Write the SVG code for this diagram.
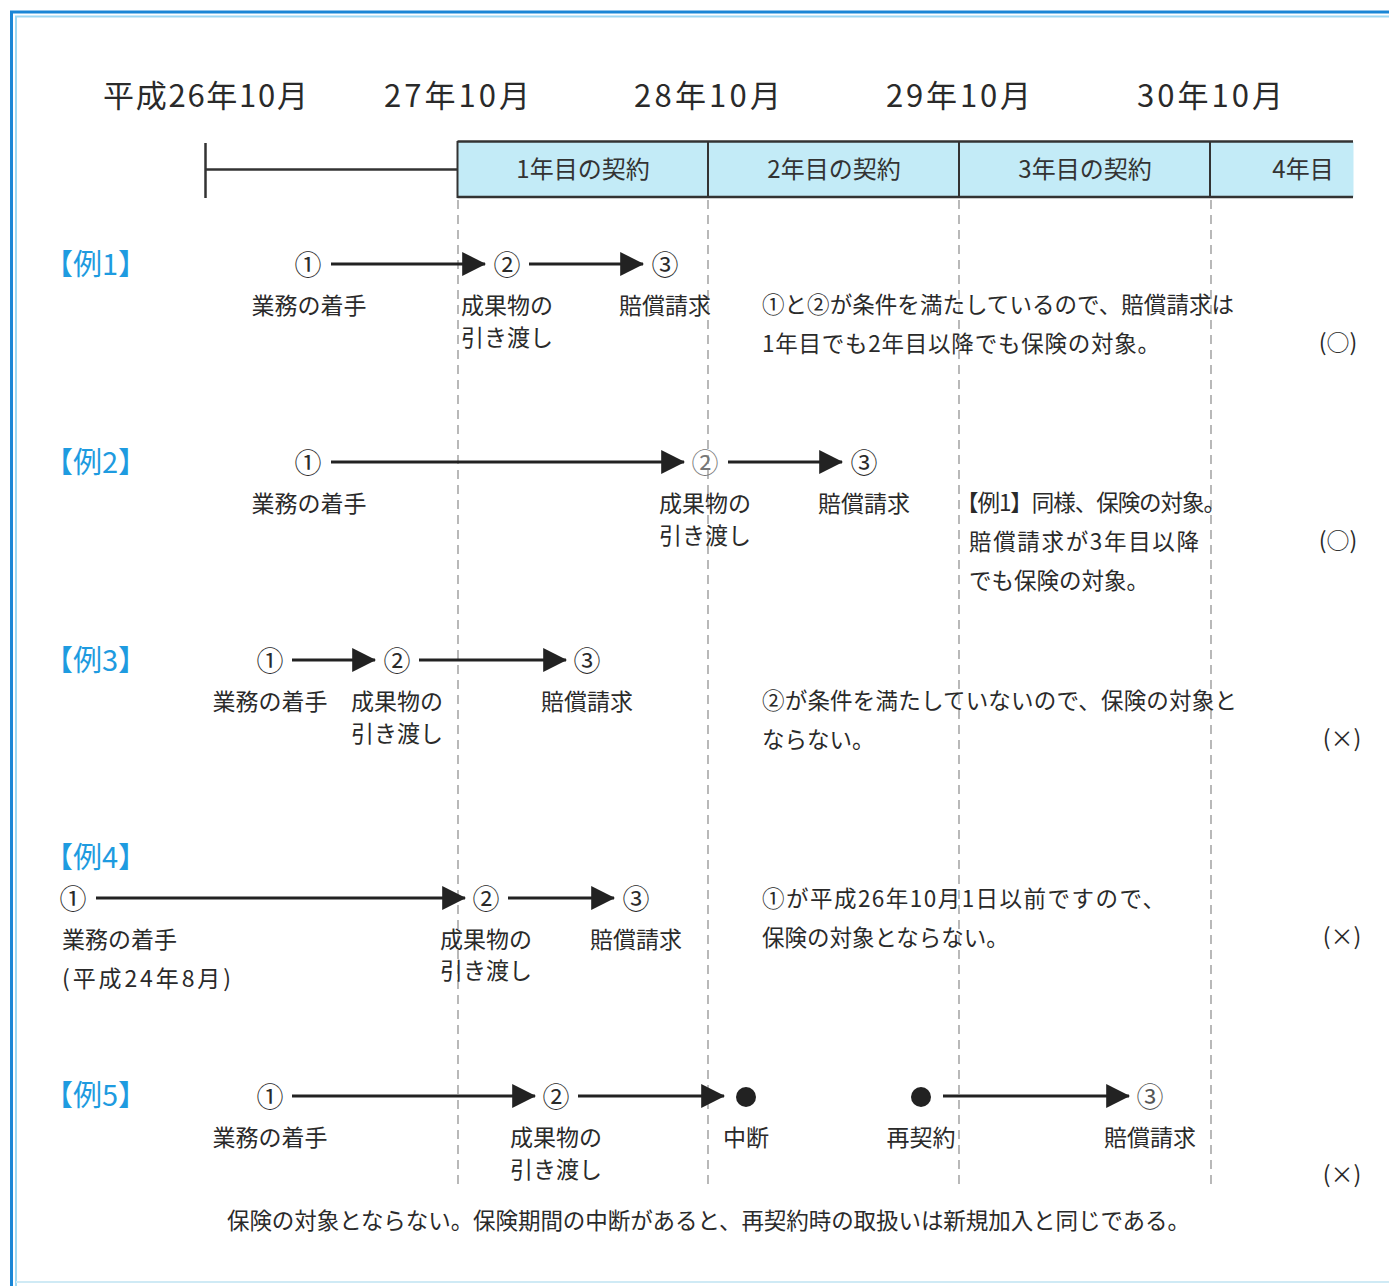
<svg xmlns="http://www.w3.org/2000/svg" width="1389" height="1286" viewBox="0 0 1389 1286">
<defs>
<style>
text{font-family:"Noto Sans CJK JP","Noto Sans",sans-serif;fill:#2a2a2a;}
.hd{font-size:31px;}
.lb{font-size:23px;text-anchor:middle;}
.tx{font-size:22.5px;}
.num{font-size:27px;text-anchor:middle;}
.ex{font-size:29px;fill:#1e9be0;}
.mk{font-size:23px;text-anchor:middle;}
.yr{font-size:24px;text-anchor:middle;fill:#333;}
.ar{stroke:#222;stroke-width:3;fill:none;}
.dash{stroke:#8a8a8a;stroke-width:1.2;stroke-dasharray:9 6;fill:none;}
</style>
<marker id="ah" markerWidth="8" markerHeight="8" refX="7.6" refY="4" orient="auto" markerUnits="strokeWidth">
<path d="M0,0 L8,4 L0,8 z" fill="#222"/>
</marker>
</defs>
<rect width="1389" height="1286" fill="#ffffff"/>
<g id="frame">
<path d="M1389,12 H11.5 V1286" fill="none" stroke="#1a86d6" stroke-width="3"/>
<path d="M1389,16.5 H16 V1286" fill="none" stroke="#9dd8f3" stroke-width="2"/>
<path d="M16,1282 H1389" fill="none" stroke="#cfeaf5" stroke-width="2"/>
</g>
<g id="header">
<text class="hd" x="103" y="107" textLength="205" lengthAdjust="spacing">平成26年10月</text>
<text class="hd" x="384" y="107" textLength="146" lengthAdjust="spacing">27年10月</text>
<text class="hd" x="634" y="107" textLength="147" lengthAdjust="spacing">28年10月</text>
<text class="hd" x="886" y="107" textLength="145" lengthAdjust="spacing">29年10月</text>
<text class="hd" x="1137" y="107" textLength="146" lengthAdjust="spacing">30年10月</text>
</g>
<g id="timeline">
<line x1="205.5" y1="143" x2="205.5" y2="198" stroke="#333" stroke-width="2.5"/>
<line x1="205" y1="169.5" x2="457" y2="169.5" stroke="#333" stroke-width="2.5"/>
<rect x="457.5" y="142" width="896" height="55" fill="#c3ebf7"/>
<line x1="457.5" y1="141.5" x2="1353" y2="141.5" stroke="#333" stroke-width="2.5"/>
<line x1="457.5" y1="197" x2="1353" y2="197" stroke="#333" stroke-width="2.5"/>
<line x1="457.5" y1="141" x2="457.5" y2="198" stroke="#333" stroke-width="2"/>
<line x1="708" y1="141" x2="708" y2="198" stroke="#333" stroke-width="2"/>
<line x1="959" y1="141" x2="959" y2="198" stroke="#333" stroke-width="2"/>
<line x1="1210" y1="141" x2="1210" y2="198" stroke="#333" stroke-width="2"/>
<text class="yr" x="583" y="178">1年目の契約</text>
<text class="yr" x="834" y="178">2年目の契約</text>
<text class="yr" x="1085" y="178">3年目の契約</text>
<text class="yr" x="1303" y="178">4年目</text>
</g>
<g id="gridlines">
<line class="dash" x1="458" y1="200" x2="458" y2="1185"/>
<line class="dash" x1="708" y1="200" x2="708" y2="1185"/>
<line class="dash" x1="959" y1="200" x2="959" y2="1185"/>
<line class="dash" x1="1211" y1="200" x2="1211" y2="1185"/>
</g>
<g id="connectors">
<line class="ar" x1="331" y1="264" x2="485" y2="264" marker-end="url(#ah)"/>
<line class="ar" x1="529" y1="264" x2="643" y2="264" marker-end="url(#ah)"/>
<line class="ar" x1="331" y1="462" x2="684" y2="462" marker-end="url(#ah)"/>
<line class="ar" x1="728" y1="462" x2="842" y2="462" marker-end="url(#ah)"/>
<line class="ar" x1="292" y1="660" x2="375" y2="660" marker-end="url(#ah)"/>
<line class="ar" x1="419" y1="660" x2="566" y2="660" marker-end="url(#ah)"/>
<line class="ar" x1="96" y1="898" x2="465" y2="898" marker-end="url(#ah)"/>
<line class="ar" x1="508" y1="898" x2="614" y2="898" marker-end="url(#ah)"/>
<line class="ar" x1="292" y1="1096" x2="535" y2="1096" marker-end="url(#ah)"/>
<line class="ar" x1="578" y1="1096" x2="724" y2="1096" marker-end="url(#ah)"/>
<line class="ar" x1="943" y1="1096" x2="1129" y2="1096" marker-end="url(#ah)"/>
</g>
<g id="ex1">
<text class="ex" x="44" y="275">【例1】</text>
<text class="num" x="308" y="275">①</text>
<text class="num" x="507" y="275">②</text>
<text class="num" x="665" y="275">③</text>
<text class="lb" x="309" y="314">業務の着手</text>
<text class="lb" x="507" y="314">成果物の</text>
<text class="lb" x="507" y="346">引き渡し</text>
<text class="lb" x="665" y="314">賠償請求</text>
<text class="tx" x="762" y="313" textLength="472" lengthAdjust="spacing">①と②が条件を満たしているので、賠償請求は</text>
<text class="tx" x="762" y="352" textLength="398" lengthAdjust="spacing">1年目でも2年目以降でも保険の対象。</text>
<text class="mk" x="1338" y="351">(○)</text>
</g>
<g id="ex2">
<text class="ex" x="44" y="473">【例2】</text>
<text class="num" x="308" y="473">①</text>
<text class="num" x="705" y="473" style="fill:#777">②</text>
<text class="num" x="864" y="473">③</text>
<text class="lb" x="309" y="512">業務の着手</text>
<text class="lb" x="705" y="512">成果物の</text>
<text class="lb" x="705" y="544">引き渡し</text>
<text class="lb" x="864" y="512">賠償請求</text>
<text class="tx" x="956" y="511" textLength="270" lengthAdjust="spacing">【例1】同様、保険の対象。</text>
<text class="tx" x="969" y="550" textLength="230" lengthAdjust="spacing">賠償請求が3年目以降</text>
<text class="tx" x="969" y="589">でも保険の対象。</text>
<text class="mk" x="1338" y="549">(○)</text>
</g>
<g id="ex3">
<text class="ex" x="44" y="671">【例3】</text>
<text class="num" x="270" y="671">①</text>
<text class="num" x="397" y="671">②</text>
<text class="num" x="587" y="671">③</text>
<text class="lb" x="270" y="710">業務の着手</text>
<text class="lb" x="397" y="710">成果物の</text>
<text class="lb" x="397" y="742">引き渡し</text>
<text class="lb" x="587" y="710">賠償請求</text>
<text class="tx" x="762" y="709" textLength="475" lengthAdjust="spacing">②が条件を満たしていないので、保険の対象と</text>
<text class="tx" x="762" y="748">ならない。</text>
<text class="mk" x="1342" y="747">(×)</text>
</g>
<g id="ex4">
<text class="ex" x="44" y="868">【例4】</text>
<text class="num" x="73" y="909">①</text>
<text class="num" x="486" y="909">②</text>
<text class="num" x="636" y="909">③</text>
<text class="tx" x="62" y="948" style="font-size:23px">業務の着手</text>
<text class="tx" x="62" y="987" style="font-size:23px" textLength="169" lengthAdjust="spacing">(平成24年8月)</text>
<text class="lb" x="486" y="948">成果物の</text>
<text class="lb" x="486" y="979">引き渡し</text>
<text class="lb" x="636" y="948">賠償請求</text>
<text class="tx" x="762" y="907" textLength="403" lengthAdjust="spacing">①が平成26年10月1日以前ですので、</text>
<text class="tx" x="762" y="946">保険の対象とならない。</text>
<text class="mk" x="1342" y="945">(×)</text>
</g>
<g id="ex5">
<text class="ex" x="44" y="1106">【例5】</text>
<text class="num" x="270" y="1107">①</text>
<text class="num" x="556" y="1107">②</text>
<circle cx="746" cy="1097" r="10" fill="#222"/>
<circle cx="921" cy="1097" r="10" fill="#222"/>
<text class="num" x="1150" y="1107" style="fill:#555">③</text>
<text class="lb" x="270" y="1146">業務の着手</text>
<text class="lb" x="556" y="1146">成果物の</text>
<text class="lb" x="556" y="1178">引き渡し</text>
<text class="lb" x="746" y="1146">中断</text>
<text class="lb" x="921" y="1146">再契約</text>
<text class="lb" x="1150" y="1146">賠償請求</text>
<text class="mk" x="1342" y="1183">(×)</text>
<text class="tx" x="227" y="1229" textLength="963" lengthAdjust="spacing">保険の対象とならない。保険期間の中断があると、再契約時の取扱いは新規加入と同じである。</text>
</g>
</svg>
